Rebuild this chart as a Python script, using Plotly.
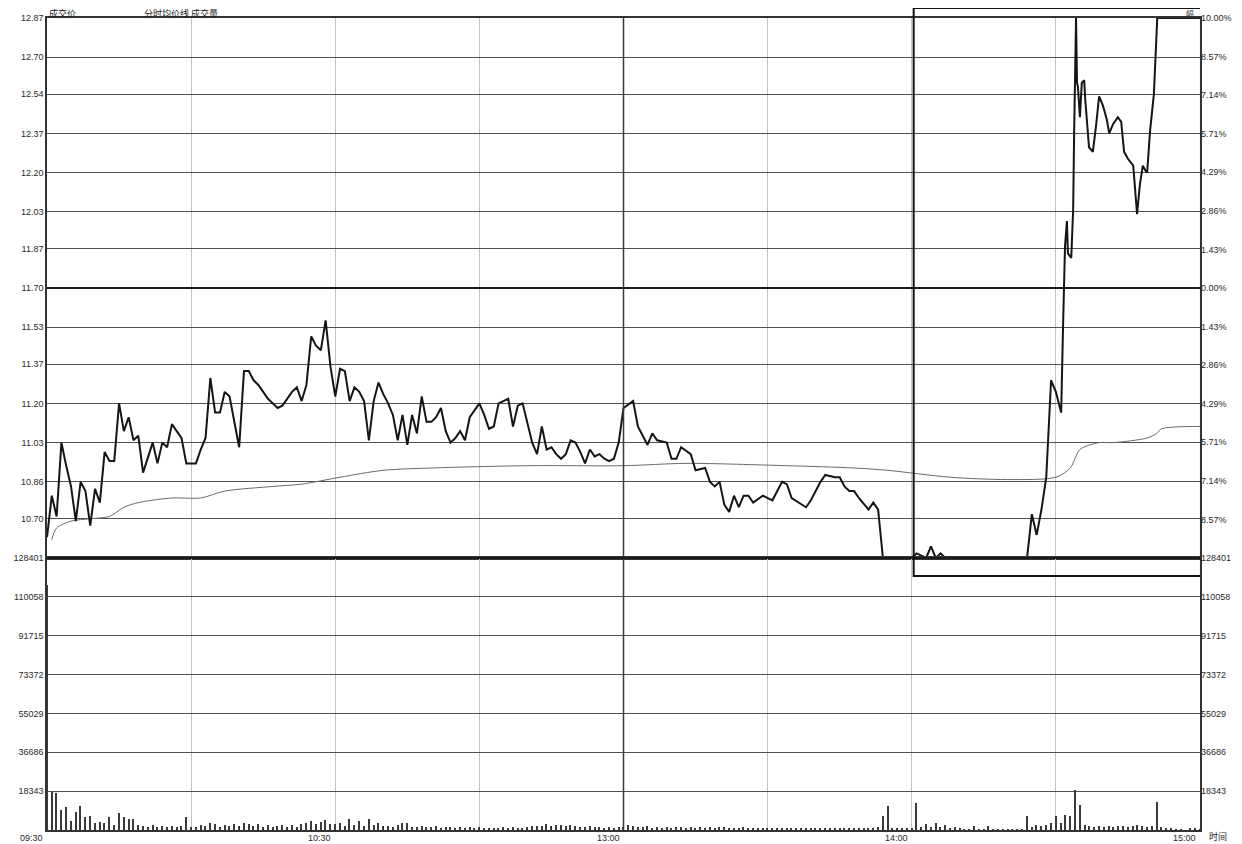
import plotly.graph_objects as go

# ---------------- data ----------------
prev_close = 11.70
price_ticks = [12.87, 12.70, 12.54, 12.37, 12.20, 12.03, 11.87, 11.70, 11.53, 11.37, 11.20, 11.03, 10.86, 10.70]
price_tick_labels = ["12.87", "12.70", "12.54", "12.37", "12.20", "12.03", "11.87", "11.70",
                     "11.53", "11.37", "11.20", "11.03", "10.86", "10.70"]
pct_ticks = [10.0, 8.5714, 7.1429, 5.7143, 4.2857, 2.8571, 1.4286, 0.0,
             -1.4286, -2.8571, -4.2857, -5.7143, -7.1429, -8.5714]
pct_tick_labels = ["10.00%", "8.57%", "7.14%", "5.71%", "4.29%", "2.86%", "1.43%", "0.00%",
                   "1.43%", "2.86%", "4.29%", "5.71%", "7.14%", "8.57%"]
vol_ticks = [18343, 36686, 55029, 73372, 91715, 110058, 128401]
vol_tick_labels = ["18343", "36686", "55029", "73372", "91715", "110058", "128401"]
time_ticks = [0, 60, 120, 180, 240]
time_labels = ["09:30", "10:30", "13:00", "14:00", "15:00"]

# minutes after 09:30 (trading minutes) and last price
price_minutes = [
    0, 1, 2, 3, 4, 5, 6, 7, 8, 9, 10, 11, 12, 13, 14, 15, 16, 17, 18, 19,
    20, 21, 22, 23, 24, 25, 26, 27, 28, 29, 30, 31, 32, 33, 34, 35, 36, 37, 38, 39,
    40, 41, 42, 43, 44, 45, 46, 47, 48, 49, 50, 51, 52, 53, 54, 55, 56, 57, 58, 59,
    60, 61, 62, 63, 64, 65, 66, 67, 68, 69, 70, 71, 72, 73, 74, 75, 76, 77, 78, 79,
    80, 81, 82, 83, 84, 85, 86, 87, 88, 89, 90, 91, 92, 93, 94, 95, 96, 97, 98, 99,
    100, 101, 102, 103, 104, 105, 106, 107, 108, 109, 110, 111, 112, 113, 114, 115, 116, 117, 118, 119,
    120, 122, 123, 125, 126, 127, 129, 130, 131, 132, 134, 135, 137, 138, 139, 140,
    141, 142, 143, 144, 145, 146, 147, 149, 151, 152, 153, 154, 155, 158, 159, 161, 162, 164, 165,
    166, 167, 168, 169, 171, 172, 173, 174, 180, 181, 182, 183, 184, 185, 186, 187, 204,
    205, 206, 207, 208, 209, 210, 211.1, 211.5, 211.9, 212.3, 212.5, 213.2, 213.6, 213.8,
    214.2, 214.4, 214.6, 215.0, 215.4, 215.9, 216.1, 216.9, 217.7, 218.4, 219.0, 219.8,
    220.6, 221.1, 221.9, 222.9, 223.6, 224.2, 225.0, 226.1, 226.9, 227.5, 228.1, 228.6,
    229.0, 229.6, 230.4, 231.1, 240]
price_values = [
    10.62, 10.80, 10.71, 11.03, 10.93, 10.84, 10.69, 10.86, 10.82, 10.67, 10.83, 10.77, 10.99, 10.95, 10.95, 11.20, 11.08, 11.14, 11.04, 11.06,
    10.90, 10.97, 11.03, 10.94, 11.03, 11.01, 11.11, 11.08, 11.05, 10.94, 10.94, 10.94, 11.00, 11.05, 11.31, 11.16, 11.16, 11.25, 11.23, 11.12,
    11.01, 11.34, 11.34, 11.30, 11.28, 11.25, 11.22, 11.20, 11.18, 11.19, 11.22, 11.25, 11.27, 11.21, 11.28, 11.49, 11.45, 11.43, 11.56, 11.36,
    11.23, 11.35, 11.34, 11.21, 11.27, 11.25, 11.21, 11.04, 11.21, 11.29, 11.24, 11.20, 11.15, 11.04, 11.15, 11.02, 11.15, 11.07, 11.23, 11.12,
    11.12, 11.14, 11.18, 11.08, 11.03, 11.05, 11.08, 11.04, 11.14, 11.17, 11.20, 11.15, 11.09, 11.10, 11.20, 11.21, 11.22, 11.10, 11.19, 11.20,
    11.11, 11.03, 10.98, 11.10, 11.00, 11.01, 10.98, 10.96, 10.98, 11.04, 11.03, 10.99, 10.94, 11.00, 10.97, 10.98, 10.96, 10.95, 10.96, 11.03,
    11.18, 11.21, 11.10, 11.02, 11.07, 11.04, 11.03, 10.96, 10.96, 11.01, 10.98, 10.91, 10.92, 10.86, 10.84, 10.86,
    10.76, 10.73, 10.80, 10.75, 10.80, 10.80, 10.77, 10.80, 10.78, 10.82, 10.86, 10.85, 10.79, 10.75, 10.78, 10.86, 10.89, 10.88, 10.88,
    10.84, 10.82, 10.82, 10.79, 10.74, 10.77, 10.74, 10.53, 10.53, 10.55, 10.54, 10.53, 10.58, 10.53, 10.55, 10.53, 10.53,
    10.72, 10.63, 10.74, 10.88, 11.30, 11.25, 11.16, 11.54, 11.88, 11.99, 11.85, 11.83, 12.04, 12.37,
    12.87, 12.59, 12.57, 12.44, 12.59, 12.60, 12.52, 12.31, 12.29, 12.41, 12.53, 12.49,
    12.43, 12.37, 12.41, 12.44, 12.42, 12.29, 12.26, 12.23, 12.02, 12.15, 12.23, 12.21,
    12.20, 12.38, 12.54, 12.87, 12.87]

avg_minutes = [1, 2, 5, 9, 13, 16, 19, 26, 32, 37, 47, 53, 61, 70, 80, 100, 120, 133, 154,
               168, 175, 188, 200, 210, 213, 215, 219, 222, 229, 231, 232, 240]
avg_values = [10.61, 10.66, 10.69, 10.70, 10.71, 10.75, 10.77, 10.79, 10.79, 10.82, 10.84, 10.85,
              10.88, 10.91, 10.92, 10.93, 10.93, 10.94, 10.93, 10.92, 10.91, 10.88, 10.87, 10.88,
              10.92, 11.00, 11.03, 11.03, 11.05, 11.07, 11.09, 11.10]

vol_minutes = list(range(241))
vol_values = [
    115600, 18000, 17500, 9400, 10800, 4200, 8500, 11300, 6100, 6400,
    3300, 3800, 3300, 6100, 2500, 8000, 6100, 5200, 5200, 2400,
    1800, 1500, 2200, 1400, 1900, 1200, 1700, 1300, 2000, 6100,
    1500, 1200, 2400, 1800, 3200, 2600, 1400, 2300, 1900, 2800,
    2100, 3400, 2600, 1800, 2900, 1500, 2200, 1300, 1900, 2500,
    1600, 2300, 1400, 2700, 3100, 4200, 2800, 3600, 4800, 3000,
    2600, 3200, 2100, 5200, 2400, 4400, 1900, 5200, 2300, 3500,
    2100, 1800, 1600, 2400, 3500, 3300, 1500, 1200, 1900, 1400,
    1300, 1700, 1100, 1500, 1200, 900, 1400, 1000, 1300, 1100,
    1200, 900, 1000, 800, 1100, 1300, 900, 1200, 800, 1000,
    1500, 1800, 2100, 1700, 2600, 1900, 2400, 2200, 1800, 2500,
    2000, 1600, 1400, 1800, 1200, 1500, 1000, 1300, 1100, 1400,
    1200,
    2200, 1800, 1500, 1200, 1700, 1000, 1300, 900, 1400, 1100,
    1600, 1200, 900, 1300, 1100, 1500, 1000, 1200, 800, 1400,
    1300, 1100, 900, 1000, 1200, 800, 1000, 900, 1100, 800,
    900, 700, 1000, 800, 900, 700, 800, 1000, 700, 900,
    800, 1000, 700, 900, 800, 700, 1000, 800, 900, 700,
    900, 800, 1200, 6600, 11300, 900, 600, 500, 700, 800,
    12700, 1500, 2800, 1200, 3200, 1600, 2200, 900, 1500, 700,
    400, 300, 2100, 400, 300, 1800, 300, 200, 400, 300,
    300, 200, 400, 6600, 1500, 2200, 1800, 2500, 3100, 6600,
    3500, 7000, 6600, 18900, 11800, 2200, 1800, 1500, 2000, 1600,
    1900, 1400, 1700, 2100, 1500, 1800, 2300, 1900, 1600, 2000,
    13200, 1200, 900, 600, 400, 300, 0, 500, 700, 400]

# ---------------- figure ----------------
# the page places the figure 8px in from the top-left corner
W, H = 1234, 836
ML, MR, MT, MB = 39, 42, 10, 14
plot_h = H - MT - MB
split = 272 / plot_h  # volume panel fraction

lim = round(prev_close * 0.10, 2)
price_range = [prev_close - lim, prev_close + lim]
vol_max = vol_ticks[-1]

fig = go.Figure()
fig.add_trace(go.Scatter(x=avg_minutes, y=avg_values, mode="lines",
                         line=dict(color="#6a6a6a", width=1, shape="spline", smoothing=0.8),
                         xaxis="x", yaxis="y", hoverinfo="skip", showlegend=False))
fig.add_trace(go.Scatter(x=price_minutes, y=price_values, mode="lines",
                         line=dict(color="#151515", width=2),
                         xaxis="x", yaxis="y", showlegend=False))
# invisible helper for right-hand percentage axis
fig.add_trace(go.Scatter(x=price_minutes, y=[(p / prev_close - 1) * 100 for p in price_values],
                         mode="lines", line=dict(width=0), opacity=0,
                         xaxis="x", yaxis="y3", hoverinfo="skip", showlegend=False))
fig.add_trace(go.Bar(x=vol_minutes, y=vol_values, width=0.28,
                     marker=dict(color="#3a3a3a", line=dict(width=0)),
                     xaxis="x2", yaxis="y2", showlegend=False))
fig.add_trace(go.Scatter(x=vol_minutes, y=vol_values, mode="lines", line=dict(width=0), opacity=0,
                         xaxis="x2", yaxis="y4", hoverinfo="skip", showlegend=False))

tickfont = dict(family="Liberation Sans, DejaVu Sans", size=9, color="#2a2a2a")
grid_v = [30, 60, 90, 120, 150, 180, 210]

common_x = dict(range=[0, 240], tickvals=grid_v, showticklabels=False, showgrid=True,
                gridcolor="#c4c4c4", gridwidth=1, zeroline=False, ticks="", automargin=False,
                showline=True, linecolor="#333", linewidth=1.5, mirror=True)

fig.update_layout(
    width=W, height=H,
    margin=dict(l=ML, r=MR, t=MT, b=MB, autoexpand=False),
    paper_bgcolor="white", plot_bgcolor="white",
    xaxis=dict(domain=[0, 1], anchor="y", **common_x),
    xaxis2=dict(domain=[0, 1], anchor="y2", matches="x", **common_x),
    yaxis=dict(domain=[split, 1], range=price_range, tickvals=price_ticks, ticktext=price_tick_labels,
               tickfont=tickfont, showgrid=True, gridcolor="#505050", gridwidth=1.3, automargin=False,
               zeroline=False, ticks="", showline=True, linecolor="#333", linewidth=1.5, mirror=True,
               anchor="x"),
    yaxis3=dict(overlaying="y", side="right", range=[-10, 10], tickvals=pct_ticks, automargin=False,
                ticktext=pct_tick_labels, tickfont=tickfont, showgrid=False, zeroline=False,
                ticks="", anchor="x"),
    yaxis2=dict(domain=[0, split], range=[0, vol_max], tickvals=vol_ticks, ticktext=vol_tick_labels,
                tickfont=tickfont, showgrid=True, gridcolor="#505050", gridwidth=1.3, automargin=False,
                zeroline=False, ticks="", showline=True, linecolor="#333", linewidth=1.5, mirror=True,
                anchor="x2"),
    yaxis4=dict(overlaying="y2", side="right", range=[0, vol_max], tickvals=vol_ticks, automargin=False,
                ticktext=vol_tick_labels, tickfont=tickfont, showgrid=False, zeroline=False,
                ticks="", anchor="x2"),
    bargap=0,
)

# previous-close reference line and 11:30/13:00 divider, panel separator
fig.add_shape(type="line", xref="paper", yref="y", x0=0, x1=1, y0=prev_close, y1=prev_close,
              line=dict(color="#1a1a1a", width=2))
fig.add_shape(type="line", xref="x", yref="paper", x0=120, x1=120, y0=0, y1=1,
              line=dict(color="#3a3a3a", width=1.5))
fig.add_shape(type="line", xref="paper", yref="paper", x0=0, x1=1, y0=split, y1=split,
              line=dict(color="#1a1a1a", width=2))
# highlight box drawn around the afternoon move
fig.add_shape(type="rect", xref="x", yref="paper", x0=180.4, x1=240.2,
              y0=(H - MB - 568) / plot_h, y1=(H - MB - 0) / plot_h,
              line=dict(color="#111", width=2), fillcolor="rgba(0,0,0,0)")

small_font = dict(family="Liberation Sans, DejaVu Sans", size=9, color="#2a2a2a")
cjk_font = dict(family="Noto Sans CJK SC", size=9, color="#222")

# time labels (right-aligned to their grid lines)
for t, lab in zip(time_ticks, time_labels):
    fig.add_annotation(x=t, y=0, xref="x2", yref="paper", text=lab, showarrow=False,
                       xanchor="right", yanchor="top", yshift=-1, xshift=-2, font=small_font)
y_bottom_mid = -6 / plot_h
fig.add_annotation(x=1.0, y=y_bottom_mid, xref="paper", yref="paper", text="时间", showarrow=False,
                   xanchor="left", yanchor="middle", xshift=8, borderpad=0, font=cjk_font)

# header texts (centred 6px above the plot frame, inside the figure)
y_head = 1 + 5 / plot_h
fig.add_annotation(x=0, y=y_head, xref="paper", yref="paper", text="成交价", showarrow=False,
                   xanchor="left", yanchor="middle", xshift=1, borderpad=0, font=cjk_font)
fig.add_annotation(x=(143 - 47) / (W - ML - MR), y=y_head, xref="paper", yref="paper",
                   text="分时均价线 成交量", showarrow=False,
                   xanchor="left", yanchor="middle", borderpad=0, font=cjk_font)
fig.add_annotation(x=1.0, y=y_head, xref="paper", yref="paper", text="幅", showarrow=False,
                   xanchor="right", yanchor="middle", xshift=-5, borderpad=0,
                   font=dict(family="Noto Sans CJK SC", size=8, color="#333"))

fig.write_html("out.html")
